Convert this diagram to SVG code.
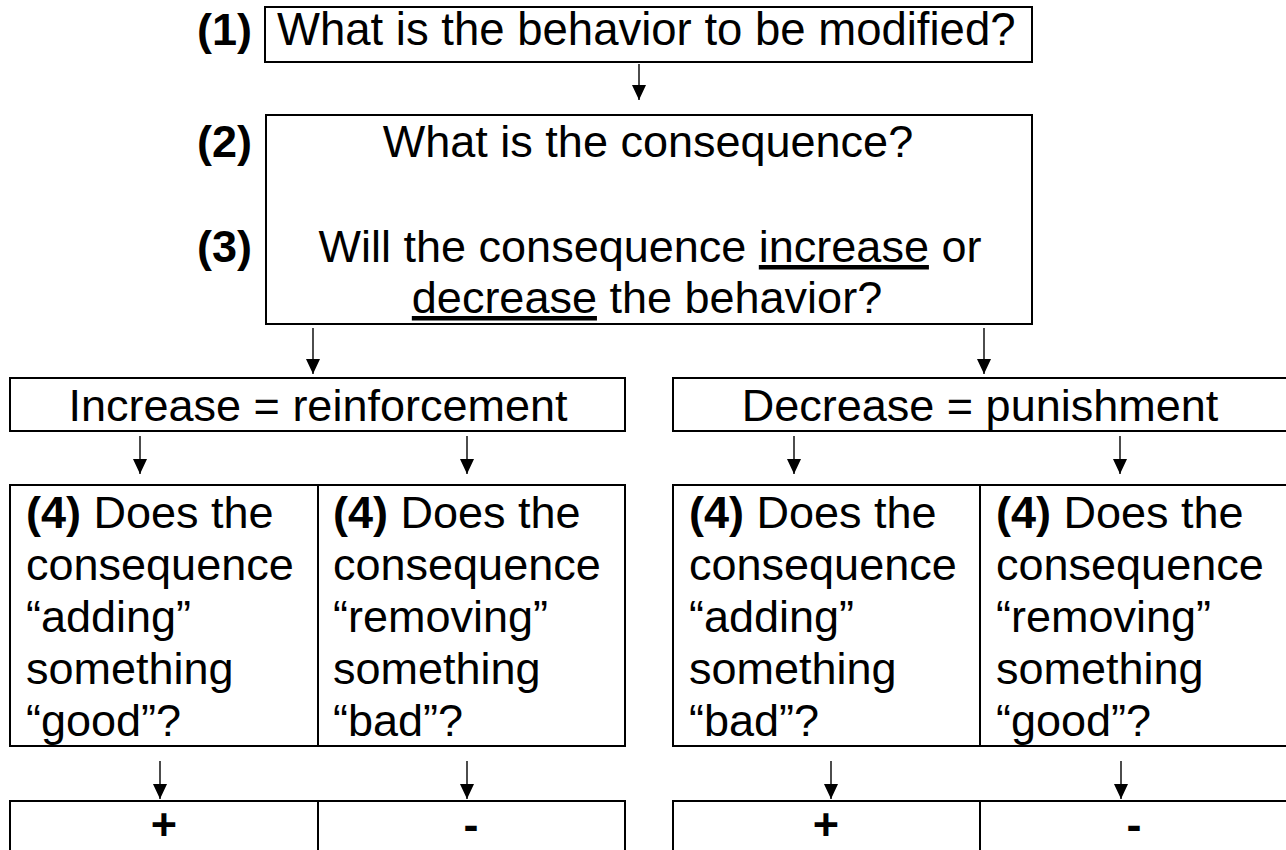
<svg xmlns="http://www.w3.org/2000/svg" width="1286" height="850" viewBox="0 0 1286 850">
<style>
.box{fill:#fff;stroke:#000;stroke-width:2}
.div{stroke:#000;stroke-width:2}
.t{font-family:"Liberation Sans",Arial,Helvetica,sans-serif;font-size:45px;fill:#000}
.b{font-weight:bold}
.c{text-anchor:middle}
.conn{stroke:#000;stroke-width:1.4;fill:none;marker-end:url(#ah)}
</style>
<defs>
<marker id="ah" viewBox="0 0 15 14" markerWidth="15" markerHeight="14" refX="15" refY="7" orient="auto" markerUnits="userSpaceOnUse">
<path d="M0,0 L15,7 L0,14 z" fill="#000"/>
</marker>
</defs>
<rect width="1286" height="850" fill="#fff"/>

<g id="labels">
<text class="t b" x="197" y="45">(1)</text>
<text class="t b" x="197" y="157">(2)</text>
<text class="t b" x="197" y="262">(3)</text>
</g>

<g id="q1">
<rect class="box" x="265" y="7" width="767" height="55"/>
<text class="t" x="277" y="45" style="font-size:45.5px">What is the behavior to be modified?</text>
</g>

<g id="q2">
<rect class="box" x="266" y="115" width="766" height="209"/>
<text class="t c" x="648" y="157">What is the consequence?</text>
<text class="t c" x="650" y="262">Will the consequence <tspan text-decoration="underline">increase</tspan> or</text>
<text class="t c" x="647" y="313"><tspan text-decoration="underline">decrease</tspan> the behavior?</text>
</g>

<g id="increase">
<rect class="box" x="10" y="378" width="615" height="53"/>
<text class="t c" x="318" y="421">Increase = reinforcement</text>
</g>

<g id="decrease">
<rect class="box" x="673" y="378" width="616" height="53"/>
<text class="t c" x="980" y="421">Decrease = punishment</text>
</g>

<g id="cells-left">
<rect class="box" x="10" y="485" width="615" height="261"/>
<line class="div" x1="318" y1="485" x2="318" y2="746"/>
<text class="t" x="26" y="528"><tspan class="b">(4)</tspan> Does the</text>
<text class="t" x="26" y="580">consequence</text>
<text class="t" x="26" y="632">“adding”</text>
<text class="t" x="26" y="684">something</text>
<text class="t" x="26" y="736">“good”?</text>
<text class="t" x="333" y="528"><tspan class="b">(4)</tspan> Does the</text>
<text class="t" x="333" y="580">consequence</text>
<text class="t" x="333" y="632">“removing”</text>
<text class="t" x="333" y="684">something</text>
<text class="t" x="333" y="736">“bad”?</text>
</g>

<g id="cells-right">
<rect class="box" x="673" y="485" width="616" height="261"/>
<line class="div" x1="980" y1="485" x2="980" y2="746"/>
<text class="t" x="689" y="528"><tspan class="b">(4)</tspan> Does the</text>
<text class="t" x="689" y="580">consequence</text>
<text class="t" x="689" y="632">“adding”</text>
<text class="t" x="689" y="684">something</text>
<text class="t" x="689" y="736">“bad”?</text>
<text class="t" x="996" y="528"><tspan class="b">(4)</tspan> Does the</text>
<text class="t" x="996" y="580">consequence</text>
<text class="t" x="996" y="632">“removing”</text>
<text class="t" x="996" y="684">something</text>
<text class="t" x="996" y="736">“good”?</text>
</g>

<g id="result-left">
<rect class="box" x="10" y="801" width="615" height="60"/>
<line class="div" x1="318" y1="801" x2="318" y2="861"/>
<text class="t b c" x="164" y="840">+</text>
<text class="t b c" x="471" y="840">-</text>
</g>

<g id="result-right">
<rect class="box" x="673" y="801" width="616" height="60"/>
<line class="div" x1="980" y1="801" x2="980" y2="861"/>
<text class="t b c" x="826" y="840">+</text>
<text class="t b c" x="1134" y="840">-</text>
</g>

<g id="connectors">
<line class="conn" x1="639" y1="64" x2="639" y2="100"/>
<line class="conn" x1="313" y1="328" x2="313" y2="374"/>
<line class="conn" x1="984" y1="328" x2="984" y2="374"/>
<line class="conn" x1="140" y1="436" x2="140" y2="474"/>
<line class="conn" x1="467" y1="436" x2="467" y2="474"/>
<line class="conn" x1="794" y1="436" x2="794" y2="474"/>
<line class="conn" x1="1120" y1="436" x2="1120" y2="474"/>
<line class="conn" x1="160" y1="761" x2="160" y2="799"/>
<line class="conn" x1="467" y1="761" x2="467" y2="799"/>
<line class="conn" x1="831" y1="761" x2="831" y2="799"/>
<line class="conn" x1="1121" y1="761" x2="1121" y2="799"/>
</g>
</svg>
